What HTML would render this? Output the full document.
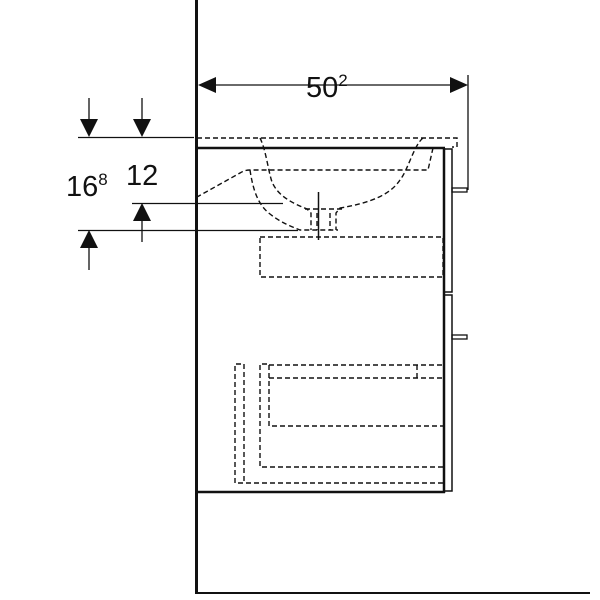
<!DOCTYPE html>
<html><head><style>body{margin:0;background:#fff}svg{display:block}</style></head><body>
<svg width="600" height="600" viewBox="0 0 600 600" xmlns="http://www.w3.org/2000/svg" font-family="Liberation Sans, sans-serif">
<g stroke="#111" fill="none">
<line x1="196.5" y1="0" x2="196.5" y2="594" stroke-width="3"/>
<line x1="196" y1="593" x2="590" y2="593" stroke-width="2"/>
<line x1="196" y1="148" x2="445" y2="148" stroke-width="2.5"/>
<line x1="444" y1="148" x2="444" y2="493" stroke-width="2.5"/>
<line x1="196" y1="492" x2="445" y2="492" stroke-width="2.5"/>
<rect x="444" y="149" width="8" height="143" stroke-width="1.5"/>
<rect x="444" y="295" width="8" height="196" stroke-width="1.5"/>
<rect x="452" y="188" width="15" height="4" stroke-width="1.3"/>
<rect x="452" y="335" width="15" height="4" stroke-width="1.3"/>
<line x1="200" y1="85" x2="466" y2="85" stroke-width="1.3"/>
<line x1="468" y1="75" x2="468" y2="190" stroke-width="1.3"/>
<line x1="78" y1="137.5" x2="194" y2="137.5" stroke-width="1.3"/>
<line x1="132" y1="203.5" x2="283" y2="203.5" stroke-width="1.3"/>
<line x1="78" y1="230.5" x2="298" y2="230.5" stroke-width="1.3"/>
<line x1="89" y1="98" x2="89" y2="125" stroke-width="1.3"/>
<line x1="142" y1="98" x2="142" y2="125" stroke-width="1.3"/>
<line x1="142" y1="215" x2="142" y2="242" stroke-width="1.3"/>
<line x1="89" y1="242" x2="89" y2="270" stroke-width="1.3"/>
<line x1="318.5" y1="192" x2="318.5" y2="240" stroke-width="1.5"/>
<g stroke-dasharray="5,3" stroke-width="1.4">
<path d="M197 138 H457 V147 H452"/>
<path d="M260 138 C266 150 268 170 272 182 C278 196 292 203 307 209 L311 213 V230"/>
<path d="M423 138 C414 145 408 170 400 180 C390 195 370 203 340 208 L336 213 V230"/>
<path d="M433 148 L428 170 H250 C246 170 243 171 240 173 L197 197"/>
<path d="M250 170 C253 190 258 205 270 214 C280 222 290 226 300 230 H338"/>
<path d="M305 209 H342 M317 213 V230 M330 213 V230"/>
<rect x="260" y="237" width="183" height="40"/>
<path d="M443 483 H235 V364 H244 V483"/>
<path d="M443 467 H260 V364 H269 V426 H443"/>
<path d="M269 365 H443 M269 378 H443 M417 365 V378"/>
</g>
</g>
<g fill="#111">
<polygon points="198,85 216,77 216,93"/>
<polygon points="468,85 450,77 450,93"/>
<polygon points="89,137 80,119 98,119"/>
<polygon points="142,137 133,119 151,119"/>
<polygon points="142,203 133,221 151,221"/>
<polygon points="89,230 80,248 98,248"/>
</g>
<text x="306" y="97" font-size="29" fill="#111">50<tspan font-size="17" dy="-11">2</tspan></text>
<text x="66" y="196" font-size="29" fill="#111">16<tspan font-size="17" dy="-11">8</tspan></text>
<text x="126" y="185" font-size="29" fill="#111">12</text>
</svg>
</body></html>
